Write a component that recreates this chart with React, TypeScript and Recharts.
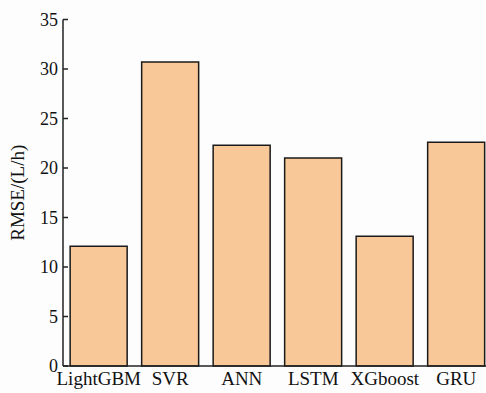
import { BarChart, Bar, XAxis, YAxis } from "recharts"

const models = ["LightGBM", "SVR", "ANN", "LSTM", "XGboost", "GRU"]
const rmse = [12.1, 30.7, 22.3, 21.0, 13.1, 22.6]
const yTicks = [0, 5, 10, 15, 20, 25, 30, 35]

const data = models.map((name, i) => ({ name, rmse: rmse[i] }))

const FONT = "'Liberation Serif', 'Times New Roman', serif"

function YTick(props: any) {
  const { x, y, payload } = props
  return (
    <g>
      <line x1={x + 5} y1={y} x2={x + 10} y2={y} stroke="#222" strokeWidth={1.5} />
      <text x={x} y={y} dy={6} textAnchor="end" fontSize={18} fontFamily={FONT} fill="#111">
        {payload.value}
      </text>
    </g>
  )
}

export default function App() {
  return (
    <div
      style={{
        position: "absolute",
        left: 0,
        top: 0,
        width: 486,
        height: 393,
        overflow: "hidden",
        background: "#fdfdfd",
      }}
    >
      <BarChart
        width={500}
        height={393}
        data={data}
        margin={{ top: 19.5, right: 8, bottom: 0, left: 0 }}
        barCategoryGap="10%"
      >
        <XAxis
          dataKey="name"
          height={27}
          tickLine={false}
          axisLine={{ stroke: "#222", strokeWidth: 1.5 }}
          tick={{ fontSize: 19, fontFamily: FONT, fill: "#111" }}
          tickMargin={0}
          interval={0}
        />
        <YAxis
          width={63}
          domain={[0, 35]}
          ticks={yTicks}
          tickSize={0}
          tickMargin={5}
          tickLine={false}
          axisLine={{ stroke: "#222", strokeWidth: 1.5 }}
          tick={<YTick />}
          label={{
            value: "RMSE/(L/h)",
            angle: -90,
            position: "center",
            dx: -14,
            style: { fontSize: 19, fontFamily: FONT, fill: "#111" },
          }}
        />
        <Bar dataKey="rmse" fill="#f9c898" stroke="#1a1a1a" strokeWidth={1.5} isAnimationActive={false} />
      </BarChart>
    </div>
  )
}
